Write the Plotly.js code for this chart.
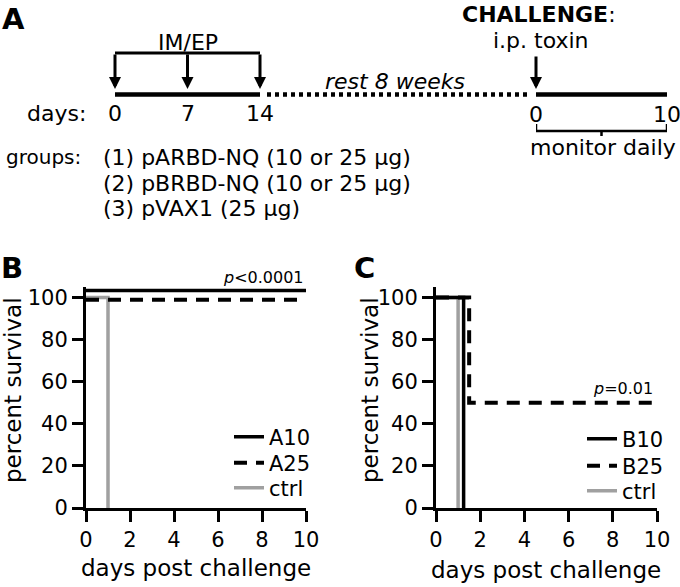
<!DOCTYPE html>
<html>
<head>
<meta charset="utf-8">
<script src="https://cdn.plot.ly/plotly-3.0.1.min.js"></script>
<style>
  html, body { margin: 0; padding: 0; background: #fff; }
  #chart { width: 680px; height: 587px; }
</style>
</head>
<body>
<div id="chart"></div>
<script>
// ---- data ----
const immunizationDays = [0, 7, 14];
const challengeDays = [0, 10];
const groupLabels = [
  '(1) pARBD-NQ (10 or 25 μg)',
  '(2) pBRBD-NQ (10 or 25 μg)',
  '(3) pVAX1 (25 μg)'
];

const dayTicks = [0, 2, 4, 6, 8, 10];
const survivalTicks = [0, 20, 40, 60, 80, 100];

// panel B
const a10Days = [0, 10];
const a10Survival = [100, 100];
const a25Days = [0, 10];
const a25Survival = [100, 100];
const bCtrlDays = [0, 1];
const bCtrlSurvival = [100, 0];

// panel C
const b10Days = [0, 1.25];
const b10Survival = [100, 0];
const b25Days = [0, 1.5, 10];
const b25Survival = [100, 50, 50];
const cCtrlDays = [0, 1];
const cCtrlSurvival = [100, 0];

// ---- helpers ----
const W = 680, H = 587;
const FONT = 'DejaVu Sans';
const px = v => v / W;
const py = v => 1 - v / H;
const GRAY = '#a0a0a0';

// survival curves are drawn as steps; nudge lifts overlapping curves apart like the figure does
function stepTrace(x, y, name, axes, style, nudge, legend) {
  return {
    x: x,
    y: y.map(v => v + (nudge || 0)),
    name: name,
    type: 'scatter',
    mode: 'lines',
    line: Object.assign({ shape: 'hv' }, style),
    xaxis: axes[0], yaxis: axes[1],
    legend: legend,
    hoverinfo: 'skip'
  };
}

const solid = { color: '#000', width: 3.5 };
const dashed = { color: '#000', width: 4, dash: '13px,9px' };
const grayLine = { color: GRAY, width: 3.5 };

const traces = [
  stepTrace(bCtrlDays, bCtrlSurvival, 'ctrl', ['x', 'y'], grayLine, 0, 'legend3'),
  stepTrace(a25Days, a25Survival, 'A25', ['x', 'y'], dashed, -1, 'legend2'),
  stepTrace(a10Days, a10Survival, 'A10', ['x', 'y'], solid, 3.3, 'legend'),
  stepTrace(cCtrlDays, cCtrlSurvival, 'ctrl', ['x2', 'y2'], grayLine, 0, 'legend6'),
  stepTrace(b25Days, b25Survival, 'B25', ['x2', 'y2'], dashed, 0, 'legend5'),
  stepTrace(b10Days, b10Survival, 'B10', ['x2', 'y2'], solid, 0, 'legend4'),
  // schematic timelines (panel A)
  {
    x: [immunizationDays[0] - 0.45, immunizationDays[immunizationDays.length - 1] + 0.3],
    y: [94.5, 94.5], xaxis: 'x3', yaxis: 'y3', mode: 'lines',
    line: { color: '#000', width: 4.5 }, showlegend: false, hoverinfo: 'skip'
  },
  {
    x: [challengeDays[0] - 0.25, challengeDays[challengeDays.length - 1] + 0.3],
    y: [94.5, 94.5], xaxis: 'x4', yaxis: 'y3', mode: 'lines',
    line: { color: '#000', width: 4.5 }, showlegend: false, hoverinfo: 'skip'
  }
];

const axisStyle = {
  showline: true, linewidth: 3, linecolor: '#000',
  tickmode: 'array',
  ticks: 'outside', ticklen: 11, tickwidth: 3, tickcolor: '#000',
  showticklabels: true,
  showgrid: false, zeroline: false,
  tickfont: { family: FONT, size: 21, color: '#000' }
};

const hidden = { visible: false, showgrid: false, zeroline: false };

// ---- annotations ----
const txt = (x, y, text, size, extra) => Object.assign({
  xref: 'paper', yref: 'paper', x: px(x), y: py(y), text: text,
  showarrow: false, xanchor: 'center', yanchor: 'middle',
  font: { family: FONT, size: size, color: '#000' }
}, extra || {});

const arrow = (xref, d, yTop, yTip) => ({
  xref: xref, yref: 'y3', axref: xref, ayref: 'y3',
  x: d, y: yTip, ax: d, ay: yTop, text: '',
  showarrow: true, arrowhead: 2, arrowsize: 0.8, arrowwidth: 3, arrowcolor: '#000'
});

const annotations = [
  txt(0, 19, '<b>A</b>', 29, { xanchor: 'left' }),
  { xref: 'x3', yref: 'y3', x: immunizationDays[1], y: 42, text: 'IM/EP', showarrow: false,
    font: { family: FONT, size: 22, color: '#000' } },
  txt(395, 81, '<i>rest 8 weeks</i>', 22),
  txt(539, 14, '<b>CHALLENGE</b>:', 22),
  txt(541, 40, 'i.p. toxin', 22),
  txt(88, 113, 'days:', 22, { xanchor: 'right' }),
  txt(603, 148, 'monitor daily', 22),
  txt(83, 157, 'groups:', 20, { xanchor: 'right' }),
  ...groupLabels.map((g, i) => txt(101, 157 + 26 * i, g, 22, { xanchor: 'left' })),
  ...immunizationDays.map(d => arrow('x3', d, 53, 89)),
  arrow('x4', challengeDays[0], 55, 89),
  ...immunizationDays.map(d => ({ xref: 'x3', yref: 'y3', x: d, y: 113, text: String(d),
    showarrow: false, font: { family: FONT, size: 22, color: '#000' } })),
  ...challengeDays.map(d => ({ xref: 'x4', yref: 'y3', x: d, y: 114, text: String(d),
    showarrow: false, font: { family: FONT, size: 22, color: '#000' } })),
  // panels B and C
  txt(12, 268, '<b>B</b>', 29),
  txt(364, 268, '<b>C</b>', 29),
  txt(306, 277, '<i>p</i><0.0001', 16, { xanchor: 'right' }),
  txt(655, 388, '<i>p</i>=0.01', 16, { xanchor: 'right' }),
  txt(13, 390, 'percent survival', 23, { textangle: -90 }),
  txt(370, 390, 'percent survival', 23, { textangle: -90 }),
  txt(196, 568, 'days post challenge', 23),
  txt(546, 570, 'days post challenge', 23)
];

// ---- shapes (schematic) ----
const last = immunizationDays[immunizationDays.length - 1];
const cFirst = challengeDays[0], cLast = challengeDays[challengeDays.length - 1];
const cMid = (cFirst + cLast) / 2;
const shapes = [
  { type: 'line', xref: 'x3', yref: 'y3', x0: immunizationDays[0] - 0.15, x1: last + 0.15,
    y0: 53, y1: 53, line: { color: '#000', width: 3 } },
  { type: 'line', xref: 'paper', yref: 'y3', x0: px(267), x1: px(531), y0: 94.5, y1: 94.5,
    line: { color: '#000', width: 4.5, dash: '4px,4px' } },
  { type: 'path', xref: 'x4', yref: 'y3',
    path: `M ${cFirst},124 L ${cFirst},131 L ${cLast},131 L ${cLast},124 M ${cMid},131 L ${cMid},136`,
    line: { color: '#000', width: 2.5 } }
];

// one legend per entry so rows sit as tight as in the figure
const legendAt = (x, y) => ({
  x: px(x), y: py(y), xanchor: 'left', yanchor: 'middle',
  bgcolor: 'rgba(0,0,0,0)', borderwidth: 0, itemwidth: 30,
  font: { family: FONT, size: 21, color: '#000' }
});

const layout = {
  width: W, height: H,
  margin: { l: 0, r: 0, t: 0, b: 0 },
  paper_bgcolor: '#fff', plot_bgcolor: 'rgba(0,0,0,0)',
  showlegend: true,
  font: { family: FONT, color: '#000' },
  xaxis: Object.assign({}, axisStyle, { domain: [px(86), px(306)], range: [0, 10], tickvals: dayTicks, anchor: 'y' }),
  yaxis: Object.assign({}, axisStyle, { domain: [py(508), py(287)], range: [0, 105], tickvals: survivalTicks, anchor: 'x' }),
  xaxis2: Object.assign({}, axisStyle, { domain: [px(436), px(657)], range: [0, 10], tickvals: dayTicks, anchor: 'y2' }),
  yaxis2: Object.assign({}, axisStyle, { domain: [py(508), py(287)], range: [0, 105], tickvals: survivalTicks, anchor: 'x2' }),
  xaxis3: Object.assign({}, hidden, { domain: [px(115), px(260)], range: [0, 14], anchor: 'y3' }),
  xaxis4: Object.assign({}, hidden, { domain: [px(536), px(667)], range: [0, 10], anchor: 'y3' }),
  yaxis3: Object.assign({}, hidden, { domain: [py(230), 1], range: [230, 0], anchor: 'x3' }),
  legend: legendAt(229, 437),
  legend2: legendAt(229, 463),
  legend3: legendAt(229, 488),
  legend4: legendAt(582, 439),
  legend5: legendAt(582, 466),
  legend6: legendAt(582, 491),
  annotations: annotations,
  shapes: shapes
};

Plotly.newPlot('chart', traces, layout, { staticPlot: true, displayModeBar: false });
</script>
</body>
</html>
